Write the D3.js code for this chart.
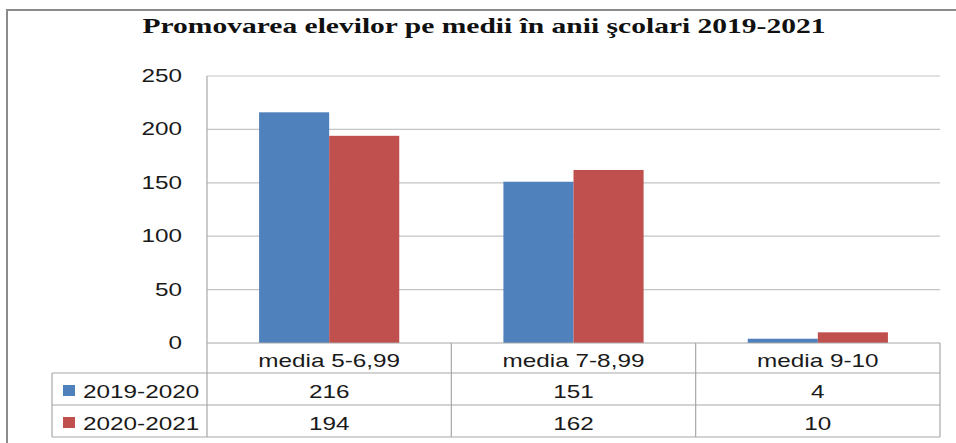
<!DOCTYPE html>
<html>
<head>
<meta charset="utf-8">
<script src="https://cdn.jsdelivr.net/npm/d3@7"></script>
<style>
  body { margin: 0; background: #fff; }
  svg { display: block; }
</style>
</head>
<body>
<svg width="956" height="443"></svg>
<script>
// data
const title = "Promovarea elevilor pe medii în anii şcolari 2019-2021";
const categories = ["media 5-6,99", "media 7-8,99", "media 9-10"];
const series = ["2019-2020", "2020-2021"];
const values_2019 = [216, 151, 4];
const values_2020 = [194, 162, 10];
const colors = ["#4f81bd", "#c0504d"];

const rows = [values_2019, values_2020];

const svg = d3.select("svg");

// the picture is stretched sideways, so text gets stretched too
const sx = 1.35;
const font = "'Liberation Sans', Arial, sans-serif";

const plot = {left: 207, right: 940, top: 76, bottom: 343};
const table = {left: 52, rowH: 32, catH: 30};

const x0 = d3.scaleBand()
    .domain(categories)
    .range([plot.left, plot.right])
    .padding(0);

const x1 = d3.scaleBand()
    .domain(series)
    .range([0, x0.bandwidth()])
    .paddingInner(0)
    .paddingOuter(0.743);

const y = d3.scaleLinear()
    .domain([0, 250])
    .range([plot.bottom, plot.top]);

function stretchText(g, x, yy, txt, anchor, size) {
    return g.append("text")
        .attr("transform", `translate(${x},${yy}) scale(${sx},1)`)
        .attr("text-anchor", anchor)
        .attr("font-family", font)
        .attr("font-size", size)
        .attr("fill", "#1a1a1a")
        .text(txt);
}

// outer frame
svg.append("rect")
    .attr("x", 7).attr("y", 10)
    .attr("width", 1000).attr("height", 500)
    .attr("fill", "none")
    .attr("stroke", "#8c8c8c")
    .attr("stroke-width", 2);

// title
svg.append("text")
    .attr("x", 484).attr("y", 33)
    .attr("text-anchor", "middle")
    .attr("font-family", "'Liberation Serif', 'Times New Roman', serif")
    .attr("font-weight", "bold")
    .attr("font-size", 21)
    .attr("textLength", 683)
    .attr("lengthAdjust", "spacingAndGlyphs")
    .attr("fill", "#111")
    .text(title);

// gridlines
const ticks = y.ticks(5);
svg.append("g")
    .selectAll("line")
    .data(ticks.filter(d => d > 0))
    .join("line")
    .attr("x1", plot.left).attr("x2", plot.right)
    .attr("y1", d => y(d)).attr("y2", d => y(d))
    .attr("stroke", "#c4c4c4")
    .attr("stroke-width", 1.2);

// y tick labels
const yl = svg.append("g");
ticks.forEach(t => {
    stretchText(yl, 182, y(t) + 6, t, "end", 18);
});

// bars
svg.append("g")
    .selectAll("g")
    .data(categories)
    .join("g")
    .attr("transform", d => `translate(${x0(d)},0)`)
    .selectAll("rect")
    .data((d, i) => series.map((s, j) => ({s: s, v: rows[j][i], c: colors[j]})))
    .join("rect")
    .attr("x", d => x1(d.s))
    .attr("width", x1.bandwidth())
    .attr("y", d => y(d.v))
    .attr("height", d => y(0) - y(d.v))
    .attr("fill", d => d.c);

// data table
const tg = svg.append("g");
const lineColor = "#a8a8a8";
const rowTop = plot.bottom + table.catH;
const tableBottom = rowTop + table.rowH * series.length;

// horizontal lines
tg.append("line")
    .attr("x1", plot.left).attr("x2", plot.right)
    .attr("y1", plot.bottom).attr("y2", plot.bottom)
    .attr("stroke", lineColor).attr("stroke-width", 1.2);
[rowTop, rowTop + table.rowH, tableBottom].forEach(yy => {
    tg.append("line")
        .attr("x1", table.left).attr("x2", plot.right)
        .attr("y1", yy).attr("y2", yy)
        .attr("stroke", lineColor).attr("stroke-width", 1.2);
});

// vertical lines
tg.append("line")
    .attr("x1", plot.left).attr("x2", plot.left)
    .attr("y1", plot.top).attr("y2", tableBottom)
    .attr("stroke", lineColor).attr("stroke-width", 1.2);
tg.append("line")
    .attr("x1", table.left).attr("x2", table.left)
    .attr("y1", rowTop).attr("y2", tableBottom)
    .attr("stroke", lineColor).attr("stroke-width", 1.2);
categories.forEach(c => {
    const xr = x0(c) + x0.bandwidth();
    tg.append("line")
        .attr("x1", xr).attr("x2", xr)
        .attr("y1", plot.bottom).attr("y2", tableBottom)
        .attr("stroke", lineColor).attr("stroke-width", 1.2);
});

// category labels
categories.forEach(c => {
    stretchText(tg, x0(c) + x0.bandwidth() / 2, plot.bottom + 24, c, "middle", 18);
});

// series rows
series.forEach((s, j) => {
    const top = rowTop + table.rowH * j;
    tg.append("rect")
        .attr("x", 63).attr("y", top + 12)
        .attr("width", 12).attr("height", 11)
        .attr("fill", colors[j]);
    stretchText(tg, 83, top + 25, s, "start", 18);
    categories.forEach((c, i) => {
        stretchText(tg, x0(c) + x0.bandwidth() / 2, top + 25, rows[j][i], "middle", 18);
    });
});
</script>
</body>
</html>
